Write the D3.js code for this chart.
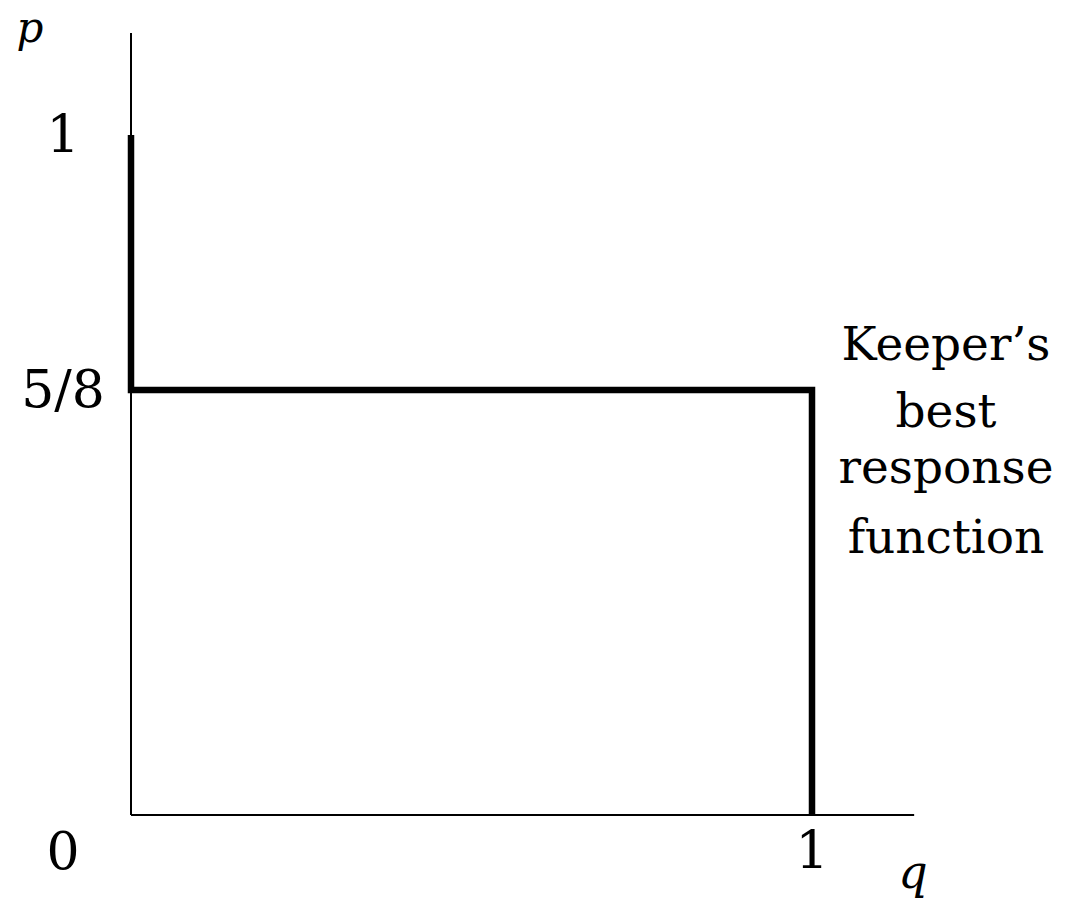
<!DOCTYPE html>
<html>
<head>
<meta charset="utf-8">
<script src="https://cdn.jsdelivr.net/npm/d3@7"></script>
<style>
  html, body { margin: 0; padding: 0; background: #fff; }
  svg text { font-family: "DejaVu Serif", "Liberation Serif", serif; fill: #000; }
</style>
</head>
<body>
<div id="chart"></div>
<script>
// Keeper's best response: p as a function of q
const responsePoints = [
    { q: 0, p: 1 },
    { q: 0, p: 5 / 8 },
    { q: 1, p: 5 / 8 },
    { q: 1, p: 0 }
];
const yTicks = [
    { value: 1, label: "1" },
    { value: 5 / 8, label: "5/8" },
    { value: 0, label: "0" }
];
const xTicks = [
    { value: 1, label: "1" }
];
const annotationLines = ["Keeper\u2019s", "best", "response", "function"];
const axisMax = 1.15;

const W = 1066, H = 906;
const x = d3.scaleLinear().domain([0, 1]).range([131, 812]);
const y = d3.scaleLinear().domain([0, 1]).range([815, 135]);

const svg = d3.select("#chart").append("svg")
    .attr("width", W)
    .attr("height", H);

// Axes (plain lines, no ticks)
svg.append("line")
    .attr("x1", x(0)).attr("x2", x(0))
    .attr("y1", y(0)).attr("y2", y(axisMax))
    .attr("stroke", "#000")
    .attr("stroke-width", 2);

svg.append("line")
    .attr("x1", x(0)).attr("x2", x(axisMax))
    .attr("y1", y(0)).attr("y2", y(0))
    .attr("stroke", "#000")
    .attr("stroke-width", 2);

// Best response step line
const line = d3.line()
    .x(d => x(d.q))
    .y(d => y(d.p));

svg.append("path")
    .datum(responsePoints)
    .attr("d", line)
    .attr("fill", "none")
    .attr("stroke", "#000")
    .attr("stroke-width", 6.5)
    .attr("stroke-linejoin", "miter")
    .attr("stroke-linecap", "butt");

// y tick labels
svg.selectAll(".ytick")
    .data(yTicks)
    .join("text")
    .attr("class", "ytick")
    .attr("x", 63)
    .attr("y", d => d.value === 0 ? 869 : y(d.value) + 17)
    .attr("text-anchor", "middle")
    .style("font-size", "52px")
    .text(d => d.label);

// x tick labels
svg.selectAll(".xtick")
    .data(xTicks)
    .join("text")
    .attr("class", "xtick")
    .attr("x", d => x(d.value))
    .attr("y", 868)
    .attr("text-anchor", "middle")
    .style("font-size", "52px")
    .text(d => d.label);

// axis names
svg.append("text")
    .attr("x", 30)
    .attr("y", 42)
    .attr("text-anchor", "middle")
    .style("font-size", "42px")
    .style("font-style", "italic")
    .text("p");

svg.append("text")
    .attr("x", 913)
    .attr("y", 888)
    .attr("text-anchor", "middle")
    .style("font-size", "46px")
    .style("font-style", "italic")
    .text("q");

// annotation
const annoY = [360, 427, 483, 553];
svg.selectAll(".anno")
    .data(annotationLines)
    .join("text")
    .attr("class", "anno")
    .attr("x", 946)
    .attr("y", (d, i) => annoY[i])
    .attr("text-anchor", "middle")
    .style("font-size", "47px")
    .text(d => d);
</script>
</body>
</html>
